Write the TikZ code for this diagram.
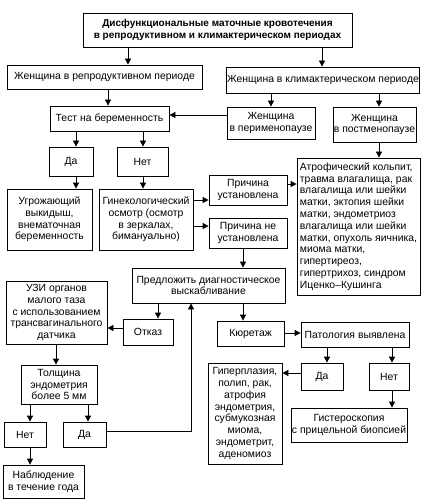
\documentclass[tikz,border=0pt]{standalone}
\usepackage{fontspec}
\setmainfont{Liberation Sans}
\usetikzlibrary{arrows.meta}
\newcommand\mkbox[7][]{\node[box,minimum width={(#5)-(#3)},minimum height={(#6)-(#4)},#1] (#2) at ({((#3)+(#5))/2},{((#4)+(#6))/2}) {#7};}
\begin{document}
\begin{tikzpicture}[x=1pt,y=-1pt,
  box/.style={draw,line width=0.8pt,align=center,inner sep=1pt,font=\fontsize{10.4}{11.8}\selectfont},
  arr/.style={draw,line width=0.8pt,-{Triangle[length=6pt,width=6pt]}},
  ln/.style={draw,line width=0.8pt}]
\useasboundingbox (0,0) rectangle (424,502);
% boxes
\mkbox[font=\fontsize{10}{12}\selectfont\bfseries]{title}{83}{13}{352}{47}{Дисфункциональные маточные кровотечения\\в репродуктивном и климактерическом периодах}
\mkbox{repro}{7}{65}{202}{89}{Женщина в репродуктивном периоде}
\mkbox{clim}{228}{67}{418}{93}{Женщина в климактерическом периоде}
\mkbox{test}{50}{106}{169}{131}{Тест на беременность}
\mkbox{peri}{227}{107}{315}{139}{Женщина\\в перименопаузе}
\mkbox{post}{334}{107}{415}{142}{Женщина\\в постменопаузе}
\mkbox{yesa}{49}{147}{93}{176}{Да}
\mkbox{noa}{117}{147}{168}{176}{Нет}
\mkbox{threat}{7}{189}{92}{250}{Угрожающий\\выкидыш,\\внематочная\\беременность}
\mkbox{gyn}{99}{189}{193}{250}{Гинекологический\\осмотр (осмотр\\в зеркалах,\\бимануально)}
\mkbox{found}{209}{175}{287}{205}{Причина\\установлена}
\mkbox{notfound}{209}{218}{287}{248}{Причина не\\установлена}
\mkbox[align=left]{atroph}{297}{158}{420}{295}{Атрофический кольпит,\\травма влагалища, рак\\влагалища или шейки\\матки, эктопия шейки\\матки, эндометриоз\\влагалища или шейки\\матки, опухоль яичника,\\миома матки,\\гипертиреоз,\\гипертрихоз, синдром\\Иценко–Кушинга}
\mkbox{offer}{132}{268}{285}{303}{Предложить диагностическое\\выскабливание}
\mkbox{refuse}{123}{319}{173}{345}{Отказ}
\mkbox{cur}{217}{321}{284}{346}{Кюретаж}
\mkbox{path}{301}{322}{409}{347}{Патология выявлена}
\mkbox{yesb}{301}{363}{343}{390}{Да}
\mkbox{nob}{369}{363}{409}{390}{Нет}
\mkbox{hyper}{208}{363}{282}{464}{Гиперплазия,\\полип, рак,\\атрофия\\эндометрия,\\субмукозная\\миома,\\эндометрит,\\аденомиоз}
\mkbox{hyst}{291}{408}{407}{442}{Гистероскопия\\с прицельной биопсией}
\mkbox{uzi}{6}{281}{107}{344}{УЗИ органов\\малого таза\\с использованием\\трансвагинального\\датчика}
\mkbox{thick}{21}{365}{97}{404}{Толщина\\эндометрия\\более 5 мм}
\mkbox{noc}{4}{422}{46}{447}{Нет}
\mkbox{yesc}{63}{422}{106}{447}{Да}
\mkbox{obs}{3}{465}{84}{498}{Наблюдение\\в течение года}
% columns and rows
\coordinate (c128) at (128,0);
\coordinate (c322) at (322,0);
\coordinate (c108) at (108,0);
\coordinate (c271) at (271,0);
\coordinate (c379) at (379,0);
\coordinate (c76) at (76,0);
\coordinate (c143) at (143,0);
\coordinate (c243) at (243,0);
\coordinate (c158) at (158,0);
\coordinate (c327) at (327,0);
\coordinate (c392) at (392,0);
\coordinate (c56) at (56,0);
\coordinate (c30) at (30,0);
\coordinate (c88) at (88,0);
\coordinate (c191) at (191,0);
\coordinate (r115) at (0,115);
\coordinate (r200) at (0,200);
\coordinate (r226) at (0,226);
\coordinate (r184) at (0,184);
\coordinate (r328) at (0,328);
\coordinate (r333) at (0,333);
\coordinate (r373) at (0,373);
\coordinate (r431) at (0,431);
% connectors
\draw[arr] (title.south -| c128) -- (repro.north -| c128);
\draw[arr] (title.south -| c322) -- (clim.north -| c322);
\draw[arr] (repro.south -| c108) -- (test.north -| c108);
\draw[arr] (clim.south -| c271) -- (peri.north -| c271);
\draw[arr] (clim.south -| c379) -- (post.north -| c379);
\draw[arr] (peri.west |- r115) -- (test.east |- r115);
\draw[arr] (post.south -| c379) -- (atroph.north -| c379);
\draw[arr] (test.south -| c76) -- (yesa.north -| c76);
\draw[arr] (test.south -| c143) -- (noa.north -| c143);
\draw[arr] (yesa.south -| c76) -- (threat.north -| c76);
\draw[arr] (noa.south -| c143) -- (gyn.north -| c143);
\draw[arr] (gyn.east |- r200) -- (found.west |- r200);
\draw[arr] (gyn.east |- r226) -- (notfound.west |- r226);
\draw[arr] (found.east |- r184) -- (atroph.west |- r184);
\draw[arr] (notfound.south -| c243) -- (offer.north -| c243);
\draw[arr] (offer.south -| c158) -- (refuse.north -| c158);
\draw[arr] (offer.south -| c243) -- (cur.north -| c243);
\draw[arr] (refuse.west |- r328) -- (uzi.east |- r328);
\draw[arr] (cur.east |- r333) -- (path.west |- r333);
\draw[arr] (path.south -| c327) -- (yesb.north -| c327);
\draw[arr] (path.south -| c392) -- (nob.north -| c392);
\draw[arr] (yesb.west |- r373) -- (hyper.east |- r373);
\draw[arr] (nob.south -| c392) -- (hyst.north -| c392);
\draw[arr] (uzi.south -| c56) -- (thick.north -| c56);
\draw[arr] (thick.south -| c30) -- (noc.north -| c30);
\draw[arr] (thick.south -| c88) -- (yesc.north -| c88);
\draw[arr] (noc.south -| c30) -- (obs.north -| c30);
\draw[arr] (yesc.east |- r431) -- (c191 |- r431) -- (offer.south -| c191);
\end{tikzpicture}
\end{document}
